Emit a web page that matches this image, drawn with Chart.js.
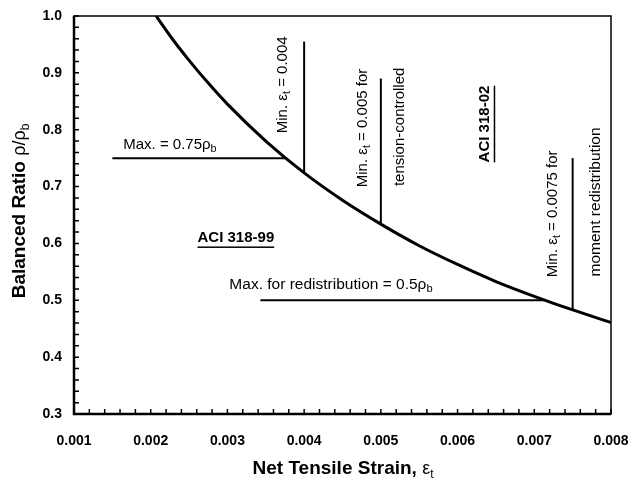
<!DOCTYPE html>
<html>
<head>
<meta charset="utf-8">
<script src="https://cdn.jsdelivr.net/npm/chart.js@4.4.1/dist/chart.umd.min.js"></script>
<style>
  html, body { margin: 0; padding: 0; background: #fff; }
  #wrap { width: 630px; height: 482px; }
</style>
</head>
<body>
<div id="wrap"><canvas id="chart" width="630" height="482"></canvas></div>
<script>
// balanced ratio curve
const strain = [0.00207, 0.00228, 0.0025, 0.00275, 0.003, 0.0035, 0.004, 0.0045, 0.005, 0.0055, 0.006, 0.0065, 0.007, 0.0075, 0.008];
const ratio = [1.0, 0.960, 0.922, 0.882, 0.845, 0.780, 0.724, 0.676, 0.634, 0.596, 0.563, 0.533, 0.507, 0.483, 0.461];

// limit lines
const max75Strain = [0.0015, 0.00376];
const max75Ratio = [0.75, 0.75];
const min004Strain = [0.004, 0.004];
const min004Ratio = [0.724, 0.955];
const min005Strain = [0.005, 0.005];
const min005Ratio = [0.634, 0.89];
const min0075Strain = [0.0075, 0.0075];
const min0075Ratio = [0.483, 0.75];
const max50Strain = [0.00343, 0.00714];
const max50Ratio = [0.5, 0.5];

// axis ticks
const xMin = 0.001, xMax = 0.008, xStep = 0.0002;
const yMin = 0.3, yMax = 1.0, yStep = 0.02;

const pts = (xs, ys) => xs.map((x, i) => ({ x: x, y: ys[i] }));

const FONT = '"Liberation Sans", Arial, sans-serif';

// text labels, anchored at data coordinates
const notes = [
  { x: 0.00225, y: 0.773, rot: false, parts: [['Max. = 0.75', 0], ['ρ', 0], ['b', 1]] },
  { x: 0.00435, y: 0.527, rot: false, size: 15.5, parts: [['Max. for redistribution = 0.5', 0], ['ρ', 0], ['b', 1]] },
  { x: 0.00311, y: 0.610, rot: false, bold: true, under: true, parts: [['ACI 318-99', 0]] },
  { x: 0.003724, y: 0.879, rot: true, parts: [['Min. ε', 0], ['t', 1], [' = 0.004', 0]] },
  { x: 0.004767, y: 0.803, rot: true, parts: [['Min. ε', 0], ['t', 1], [' = 0.005 for', 0]] },
  { x: 0.00525, y: 0.805, rot: true, parts: [['tension-controlled', 0]] },
  { x: 0.006358, y: 0.810, rot: true, bold: true, under: true, parts: [['ACI 318-02', 0]] },
  { x: 0.007244, y: 0.652, rot: true, parts: [['Min. ε', 0], ['t', 1], [' = 0.0075 for', 0]] },
  { x: 0.007805, y: 0.673, rot: true, size: 15.5, parts: [['moment redistribution', 0]] }
];

function drawParts(ctx, parts, size, bold, under) {
  const fnt = (p) => (bold ? 'bold ' : '') + (p[1] ? size * 0.72 : size) + 'px ' + FONT;
  let total = 0;
  parts.forEach(p => { ctx.font = fnt(p); total += ctx.measureText(p[0]).width; });
  let x = -total / 2;
  ctx.textBaseline = 'middle';
  ctx.textAlign = 'left';
  parts.forEach(p => {
    ctx.font = fnt(p);
    ctx.fillText(p[0], x, p[1] ? size * 0.28 : 0);
    x += ctx.measureText(p[0]).width;
  });
  if (under) ctx.fillRect(-total / 2, size * 0.58, total, 1.5);
}

function drawTitle(ctx, parts) {
  const f = (p) => (p[2] ? 'bold 19px ' : (p[1] ? '12px ' : '18px ')) + FONT;
  let total = 0;
  parts.forEach(p => { ctx.font = f(p); total += ctx.measureText(p[0]).width; });
  let x = -total / 2;
  ctx.textBaseline = 'middle';
  ctx.textAlign = 'left';
  parts.forEach(p => {
    ctx.font = f(p);
    ctx.fillText(p[0], x, p[1] ? 6 : 0);
    x += ctx.measureText(p[0]).width;
  });
}

const decor = {
  id: 'decor',
  afterDatasetsDraw(chart) {
    const ctx = chart.ctx;
    const a = chart.chartArea;
    const xs = chart.scales.x, ys = chart.scales.y;
    ctx.save();
    ctx.strokeStyle = '#000';
    ctx.fillStyle = '#000';
    // frame
    ctx.lineWidth = 1.5;
    ctx.strokeRect(a.left, a.top, a.right - a.left, a.bottom - a.top);
    ctx.lineWidth = 2.5;
    ctx.beginPath();
    ctx.moveTo(a.left, a.top); ctx.lineTo(a.left, a.bottom); ctx.lineTo(a.right, a.bottom);
    ctx.stroke();
    // inward tick marks
    ctx.lineWidth = 1.5;
    ctx.beginPath();
    xs.ticks.forEach(t => {
      const px = xs.getPixelForValue(t.value);
      ctx.moveTo(px, a.bottom); ctx.lineTo(px, a.bottom - 5);
    });
    ys.ticks.forEach(t => {
      const py = ys.getPixelForValue(t.value);
      ctx.moveTo(a.left, py); ctx.lineTo(a.left + 5, py);
    });
    ctx.stroke();
    // notes
    notes.forEach(n => {
      ctx.save();
      ctx.translate(xs.getPixelForValue(n.x), ys.getPixelForValue(n.y));
      if (n.rot) ctx.rotate(-Math.PI / 2);
      drawParts(ctx, n.parts, n.size || 15, n.bold, n.under);
      ctx.restore();
    });
    // axis titles
    ctx.save();
    ctx.translate(343, 469);
    drawTitle(ctx, [['Net Tensile Strain, ', 0, 1], ['ε', 0, 0], ['t', 1, 0]]);
    ctx.restore();
    ctx.save();
    ctx.translate(20, 211);
    ctx.rotate(-Math.PI / 2);
    drawTitle(ctx, [['Balanced Ratio ', 0, 1], ['ρ/ρ', 0, 0], ['b', 1, 0]]);
    ctx.restore();
    ctx.restore();
  }
};

const isMajor = (v, unit) => Math.abs(v / unit - Math.round(v / unit)) < 1e-6;

new Chart(document.getElementById('chart'), {
  type: 'scatter',
  data: {
    datasets: [
      { data: pts(strain, ratio), showLine: true, borderColor: '#000', borderWidth: 3, pointRadius: 0, cubicInterpolationMode: 'monotone' },
      { data: pts(max75Strain, max75Ratio), showLine: true, borderColor: '#000', borderWidth: 2, pointRadius: 0 },
      { data: pts(min004Strain, min004Ratio), showLine: true, borderColor: '#000', borderWidth: 2, pointRadius: 0 },
      { data: pts(min005Strain, min005Ratio), showLine: true, borderColor: '#000', borderWidth: 2, pointRadius: 0 },
      { data: pts(min0075Strain, min0075Ratio), showLine: true, borderColor: '#000', borderWidth: 2, pointRadius: 0 },
      { data: pts(max50Strain, max50Ratio), showLine: true, borderColor: '#000', borderWidth: 2, pointRadius: 0 }
    ]
  },
  options: {
    responsive: false,
    animation: false,
    layout: { padding: { left: 0, top: 16, right: 19, bottom: 0 } },
    plugins: { legend: { display: false }, tooltip: { enabled: false } },
    scales: {
      x: {
        type: 'linear', min: xMin, max: xMax,
        border: { display: false },
        grid: { display: false, drawTicks: false },
        afterFit: (s) => { s.height = 68; s.paddingLeft = 0; s.paddingRight = 0; },
        afterBuildTicks: (s) => {
          s.ticks = [];
          for (let i = 0; i <= Math.round((xMax - xMin) / xStep); i++) s.ticks.push({ value: xMin + i * xStep });
        },
        ticks: {
          autoSkip: false, maxRotation: 0, padding: 19, color: '#000',
          font: { family: FONT, size: 14, weight: 'bold' },
          callback: (v) => isMajor(v, 0.001) ? v.toFixed(3) : ''
        }
      },
      y: {
        type: 'linear', min: yMin, max: yMax,
        border: { display: false },
        grid: { display: false, drawTicks: false },
        afterFit: (s) => { s.width = 74; s.paddingTop = 0; s.paddingBottom = 0; },
        afterBuildTicks: (s) => {
          s.ticks = [];
          for (let i = 0; i <= Math.round((yMax - yMin) / yStep); i++) s.ticks.push({ value: yMin + i * yStep });
        },
        ticks: {
          autoSkip: false, padding: 12, color: '#000',
          font: { family: FONT, size: 14, weight: 'bold' },
          callback: (v) => isMajor(v, 0.1) ? v.toFixed(1) : ''
        }
      }
    }
  },
  plugins: [decor]
});
</script>
</body>
</html>
